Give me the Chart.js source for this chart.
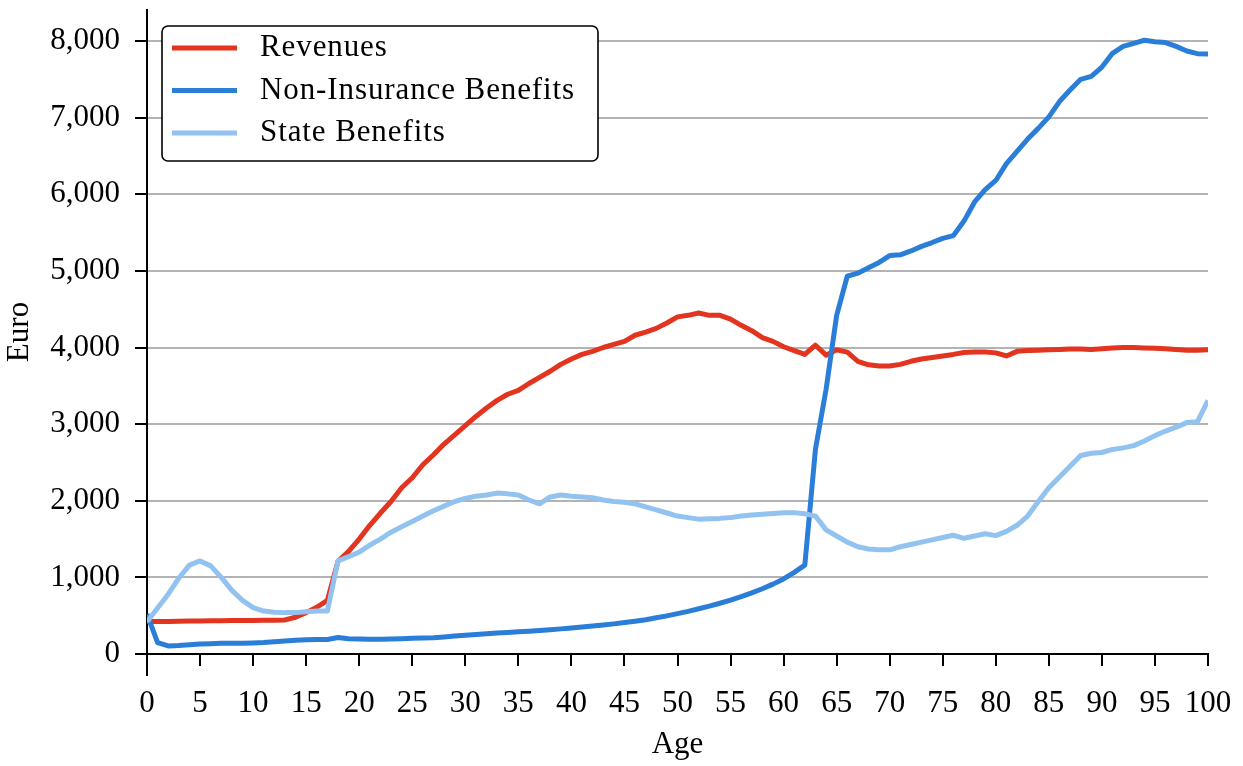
<!DOCTYPE html>
<html>
<head>
<meta charset="utf-8">
<script src="https://cdn.jsdelivr.net/npm/chart.js@4.4.1/dist/chart.umd.min.js"></script>
<style>
  html, body { margin: 0; padding: 0; background: #fff; }
  canvas { display: block; }
</style>
</head>
<body>
<canvas id="chart" width="1243" height="766"></canvas>
<script>
const ages = [0, 1, 2, 3, 4, 5, 6, 7, 8, 9, 10, 11, 12, 13, 14, 15, 16, 17, 18, 19, 20,
  21, 22, 23, 24, 25, 26, 27, 28, 29, 30, 31, 32, 33, 34, 35, 36, 37, 38, 39, 40,
  41, 42, 43, 44, 45, 46, 47, 48, 49, 50, 51, 52, 53, 54, 55, 56, 57, 58, 59, 60,
  61, 62, 63, 64, 65, 66, 67, 68, 69, 70, 71, 72, 73, 74, 75, 76, 77, 78, 79, 80,
  81, 82, 83, 84, 85, 86, 87, 88, 89, 90, 91, 92, 93, 94, 95, 96, 97, 98, 99, 100];

const revenues = [425, 425, 425, 428, 430, 432, 434, 435, 436, 437, 438, 440, 440, 445, 480, 540, 610, 700, 1210, 1340, 1500,
  1680, 1840, 1990, 2170, 2300, 2470, 2600, 2740, 2860, 2980, 3100, 3210, 3310, 3390, 3440, 3530, 3610, 3690, 3780, 3850,
  3910, 3950, 4000, 4040, 4080, 4160, 4200, 4250, 4320, 4400, 4420, 4450, 4420, 4420, 4370, 4290, 4220, 4130, 4080, 4010,
  3960, 3910, 4030, 3900, 3970, 3940, 3820, 3775, 3760, 3760, 3780, 3820, 3850, 3870, 3890, 3910, 3935, 3940, 3940, 3930,
  3890, 3950, 3960, 3965, 3970, 3975, 3980, 3980, 3975, 3985, 3995, 4000, 4000, 3995, 3990, 3985, 3975, 3965, 3965, 3970];

const nonInsuranceBenefits = [520, 150, 105, 110, 120, 130, 135, 140, 140, 140, 145, 150, 160, 170, 180, 185, 190, 190, 215, 200, 195,
  192, 192, 195, 200, 205, 210, 212, 222, 235, 245, 255, 265, 275, 282, 290, 297, 307, 317, 328, 340,
  352, 365, 378, 393, 410, 428, 448, 472, 498, 527, 557, 590, 625, 662, 702, 748, 798, 852, 912, 980,
  1065, 1160, 2670, 3450, 4420, 4930, 4970, 5040, 5110, 5200, 5210, 5260, 5320, 5370, 5425, 5460, 5650, 5900, 6060, 6180,
  6400, 6560, 6720, 6860, 7010, 7210, 7360, 7500, 7540, 7660, 7840, 7930, 7970, 8010, 7990, 7980, 7930, 7870, 7835, 7830];

const stateBenefits = [420, 600, 780, 990, 1160, 1215, 1150, 1000, 830, 700, 605, 560, 545, 540, 540, 550, 560, 560, 1215, 1270, 1330,
  1420, 1500, 1590, 1660, 1730, 1800, 1870, 1930, 1990, 2030, 2060, 2075, 2100, 2090, 2075, 2010, 1960, 2050, 2075, 2060,
  2050, 2040, 2010, 1990, 1980, 1960, 1920, 1880, 1840, 1800, 1780, 1760, 1765, 1770, 1780, 1800, 1815, 1825, 1835, 1845,
  1845, 1830, 1800, 1620, 1540, 1460, 1400, 1370, 1360, 1360, 1400, 1430, 1460, 1490, 1520, 1550, 1510, 1540, 1570, 1545,
  1600, 1680, 1800, 1990, 2170, 2310, 2450, 2590, 2620, 2630, 2670, 2690, 2720, 2780, 2850, 2910, 2960, 3020, 3030, 3310];

const yTicks = [0, 1000, 2000, 3000, 4000, 5000, 6000, 7000, 8000];
const xTicks = [0, 5, 10, 15, 20, 25, 30, 35, 40, 45, 50, 55, 60, 65, 70, 75, 80, 85, 90, 95, 100];

const seriesNames = ["Revenues", "Non-Insurance Benefits", "State Benefits"];
const seriesColors = ["#e2341f", "#2a7ed8", "#92c2ef"];

const FONT = "'Liberation Serif', 'Times New Roman', serif";

function points(values) {
  return ages.map((a, i) => ({ x: a, y: values[i] }));
}

function makeDataset(i, values, order) {
  return {
    label: seriesNames[i],
    data: points(values),
    borderColor: seriesColors[i],
    backgroundColor: seriesColors[i],
    borderWidth: 5,
    pointRadius: 0,
    tension: 0,
    borderJoinStyle: "round",
    order: order
  };
}

// legend drawn inside the plot, with a rounded frame
const boxLegend = {
  id: "boxLegend",
  afterDatasetsDraw(chart) {
    const ctx = chart.ctx;
    const area = chart.chartArea;
    const x0 = area.left + 15, y0 = area.top + 16, w = 436, h = 135;
    ctx.save();
    ctx.beginPath();
    ctx.roundRect(x0, y0, w, h, 6);
    ctx.fillStyle = "#fff";
    ctx.fill();
    ctx.lineWidth = 1.6;
    ctx.strokeStyle = "#000";
    ctx.stroke();
    ctx.font = "31px " + FONT;
    if ("letterSpacing" in ctx) ctx.letterSpacing = "0.9px";
    ctx.textBaseline = "middle";
    ctx.fillStyle = "#000";
    seriesNames.forEach((name, i) => {
      const y = y0 + 22 + i * 42.5;
      ctx.beginPath();
      ctx.moveTo(x0 + 10, y);
      ctx.lineTo(x0 + 75, y);
      ctx.lineWidth = 5;
      ctx.strokeStyle = seriesColors[i];
      ctx.stroke();
      ctx.fillText(name, x0 + 98, y);
    });
    ctx.restore();
  }
};

// the y spine runs a little below the x axis
const spineExtend = {
  id: "spineExtend",
  afterDraw(chart) {
    const ctx = chart.ctx;
    const area = chart.chartArea;
    ctx.save();
    ctx.beginPath();
    ctx.moveTo(area.left, area.bottom);
    ctx.lineTo(area.left, area.bottom + 22);
    ctx.lineWidth = 2;
    ctx.strokeStyle = "#000";
    ctx.stroke();
    ctx.restore();
  }
};

new Chart(document.getElementById("chart"), {
  type: "line",
  data: {
    datasets: [
      makeDataset(0, revenues, 2),
      makeDataset(1, nonInsuranceBenefits, 1),
      makeDataset(2, stateBenefits, 0)
    ]
  },
  options: {
    responsive: false,
    animation: false,
    layout: { padding: { top: 10, right: 35, left: 0, bottom: 0 } },
    plugins: {
      legend: { display: false },
      tooltip: { enabled: false }
    },
    scales: {
      x: {
        type: "linear",
        min: 0,
        max: 100,
        afterFit(scale) {
          scale.height = 112;
          scale.paddingLeft = 0;
          scale.paddingRight = 0;
        },
        afterBuildTicks(scale) { scale.ticks = xTicks.map(v => ({ value: v })); },
        border: { color: "#000", width: 2 },
        grid: { drawOnChartArea: false, drawTicks: true, tickLength: 12, color: "#000", lineWidth: 2 },
        ticks: {
          padding: 19,
          color: "#000",
          font: { family: FONT, size: 31 },
          maxRotation: 0,
          autoSkip: false
        },
        title: {
          display: true,
          text: "Age",
          color: "#000",
          font: { family: FONT, size: 31 },
          padding: { bottom: 3 }
        }
      },
      y: {
        min: 0,
        max: 8405,
        afterFit(scale) {
          scale.width = 147;
          scale.paddingTop = 0;
          scale.paddingBottom = 0;
        },
        afterBuildTicks(scale) { scale.ticks = yTicks.map(v => ({ value: v })); },
        border: { color: "#000", width: 2 },
        grid: {
          color: (c) => (c.tick && c.tick.value === 0 ? "#000" : "#b3b3b3"),
          lineWidth: 2,
          tickLength: 12,
          tickColor: "#000"
        },
        ticks: {
          padding: 15,
          color: "#000",
          font: { family: FONT, size: 31 },
          autoSkip: false,
          callback: (v) => v.toLocaleString("en-US")
        },
        title: {
          display: true,
          text: "Euro",
          color: "#000",
          font: { family: FONT, size: 31 },
          padding: { top: 1 }
        }
      }
    }
  },
  plugins: [boxLegend, spineExtend]
});
</script>
</body>
</html>
